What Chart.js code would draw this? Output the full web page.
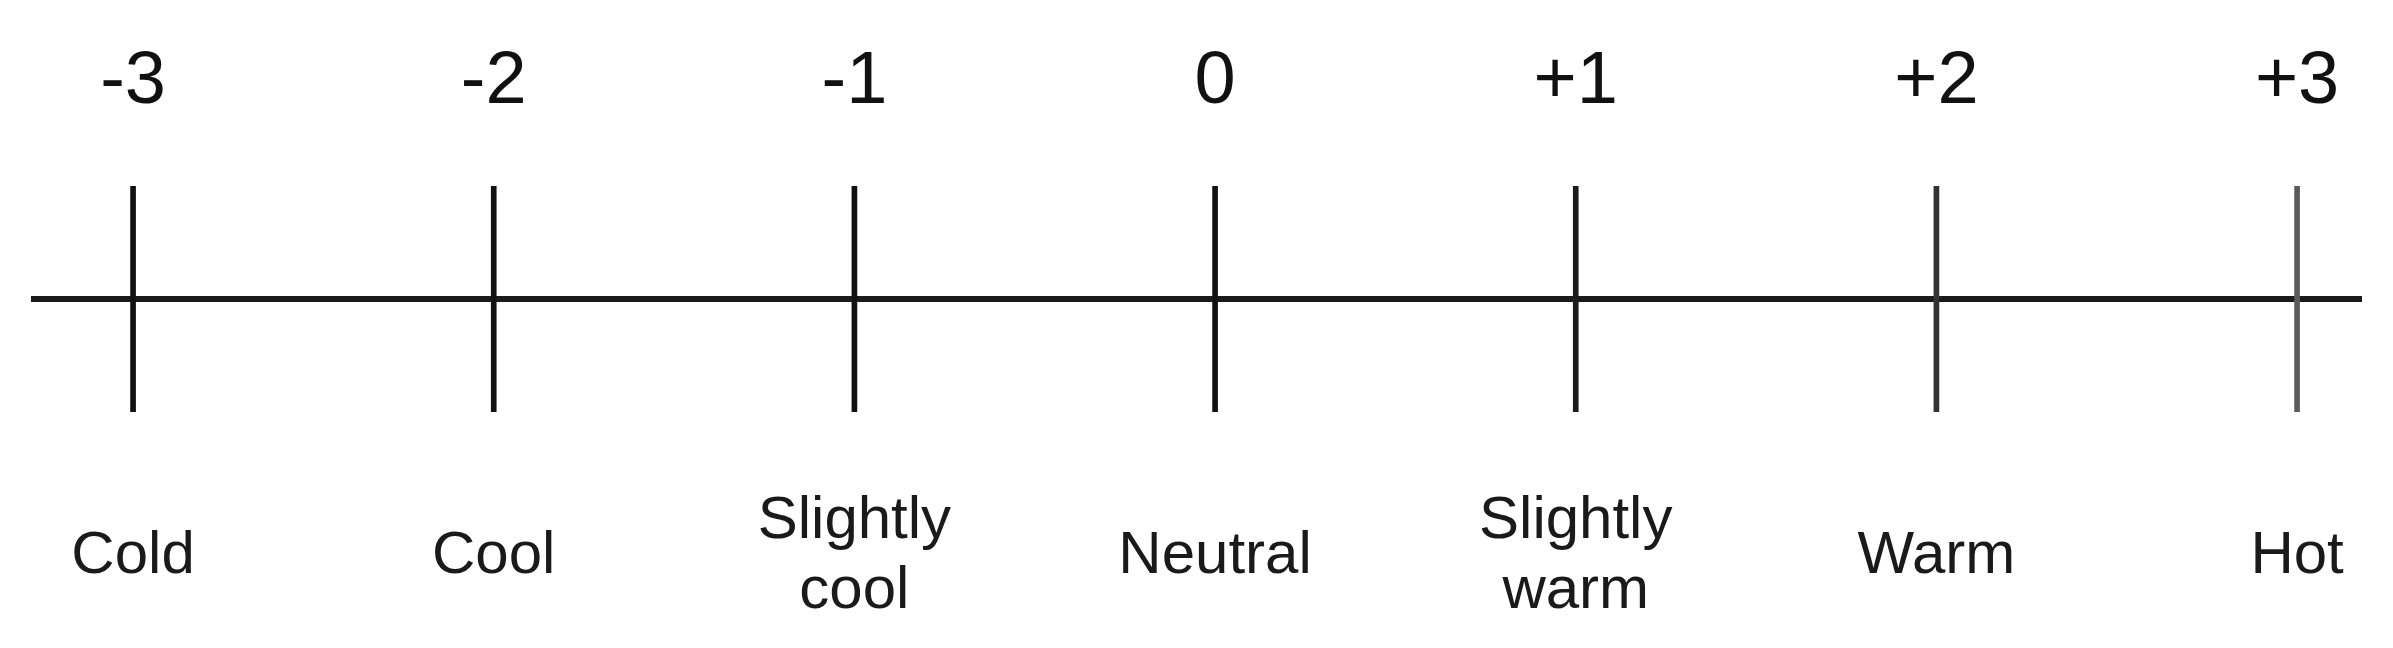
<!DOCTYPE html>
<html>
<head>
<meta charset="utf-8">
<script src="https://cdn.jsdelivr.net/npm/chart.js@4.4.1/dist/chart.umd.min.js"></script>
<style>
  html, body { margin: 0; padding: 0; background: #fff; }
  #wrap { width: 2393px; height: 648px; }
</style>
</head>
<body>
<div id="wrap"><canvas id="chart"></canvas></div>
<script>
// Thermal sensation scale values
const scaleValues = [-3, -2, -1, 0, 1, 2, 3];
const scaleNumbers = ["-3", "-2", "-1", "0", "+1", "+2", "+3"];
const sensationLabels = [
  "Cold",
  "Cool",
  ["Slightly", "cool"],
  "Neutral",
  ["Slightly", "warm"],
  "Warm",
  "Hot",
];
// how far the horizontal line runs past the end marks
const axisRange = [-3.283, 3.18];
// each mark spans from -1 to 1 on the hidden vertical scale
const markSpan = [-1, 1];

const markColors = ["#111", "#111", "#111", "#111", "#1c1c1c", "#333", "#5a5a5a"];
const fontFamily = "'Liberation Sans Narrow', 'Liberation Sans', Arial, sans-serif";

function labelFor(list) {
  return function (value) {
    const i = scaleValues.indexOf(value);
    return i === -1 ? "" : list[i];
  };
}

Chart.defaults.font.family = fontFamily;
Chart.defaults.color = "#111";

const ctx = document.getElementById("chart").getContext("2d");
new Chart(ctx, {
  type: "bar",
  data: {
    datasets: [
      {
        data: scaleValues.map((v) => ({ x: v, y: markSpan })),
        backgroundColor: markColors,
        borderWidth: 0,
        barThickness: 5,
        xAxisID: "x",
        yAxisID: "y",
      },
    ],
  },
  options: {
    responsive: true,
    maintainAspectRatio: false,
    devicePixelRatio: 1,
    animation: false,
    layout: { padding: { left: 31, right: 31, top: 0, bottom: 0 } },
    plugins: {
      legend: { display: false },
      tooltip: { enabled: false },
    },
    scales: {
      x: {
        type: "linear",
        position: "bottom",
        min: axisRange[0],
        max: axisRange[1],
        offset: false,
        grid: { display: false },
        border: { display: false },
        ticks: {
          stepSize: 1,
          includeBounds: false,
          autoSkip: false,
          maxRotation: 0,
          crossAlign: "center",
          padding: 101,
          color: "#1a1a1a",
          font: { size: 60, lineHeight: 1.17 },
          callback: labelFor(sensationLabels),
        },
        afterFit: (scale) => {
          scale.height = 236;
          scale.paddingLeft = 0;
          scale.paddingRight = 0;
        },
      },
      x2: {
        type: "linear",
        position: "top",
        min: axisRange[0],
        max: axisRange[1],
        offset: false,
        grid: { display: false },
        border: { display: false },
        ticks: {
          stepSize: 1,
          includeBounds: false,
          autoSkip: false,
          maxRotation: 0,
          padding: 51,
          color: "#111",
          font: { size: 74, lineHeight: 1.2 },
          callback: labelFor(scaleNumbers),
        },
        afterFit: (scale) => {
          scale.height = 186;
          scale.paddingLeft = 0;
          scale.paddingRight = 0;
        },
      },
      y: {
        type: "linear",
        min: markSpan[0],
        max: markSpan[1],
        border: { display: false },
        grid: {
          drawTicks: false,
          lineWidth: 6,
          color: (c) => (c.tick && c.tick.value === 0 ? "#1a1a1a" : "rgba(0,0,0,0)"),
        },
        ticks: { display: false, stepSize: 1 },
        afterFit: (scale) => {
          scale.width = 0;
        },
      },
    },
  },
});
</script>
</body>
</html>
